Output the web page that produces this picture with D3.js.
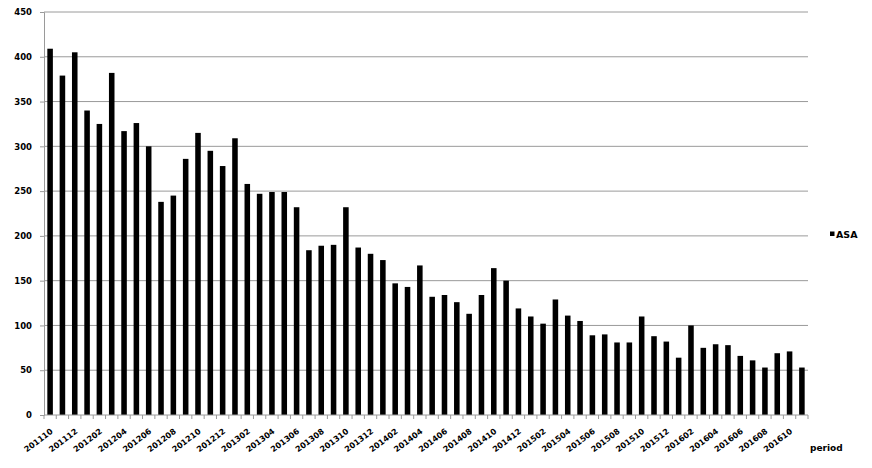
<!DOCTYPE html>
<html>
<head>
<meta charset="utf-8">
<script src="https://cdn.jsdelivr.net/npm/d3@7"></script>
<style>
  body { margin: 0; background: #fff; }
  text { font-family: "DejaVu Sans", Verdana, sans-serif; font-weight: bold; }
</style>
</head>
<body>
<svg id="chart" width="872" height="468"></svg>
<script>
// monthly periods and ASA values
const periods = [
  "201110","201111","201112",
  "201201","201202","201203","201204","201205","201206","201207","201208","201209","201210","201211","201212",
  "201301","201302","201303","201304","201305","201306","201307","201308","201309","201310","201311","201312",
  "201401","201402","201403","201404","201405","201406","201407","201408","201409","201410","201411","201412",
  "201501","201502","201503","201504","201505","201506","201507","201508","201509","201510","201511","201512",
  "201601","201602","201603","201604","201605","201606","201607","201608","201609","201610","201611"
]
const asa = [
  409, 379, 405,
  340, 325, 382, 317, 326, 300, 238, 245, 286, 315, 295, 278,
  309, 258, 247, 249, 249, 232, 184, 189, 190, 232, 187, 180,
  173, 147, 143, 167, 132, 134, 126, 113, 134, 164, 150, 119,
  110, 102, 129, 111, 105, 89, 90, 81, 81, 110, 88, 82,
  64, 100, 75, 79, 78, 66, 61, 53, 69, 71, 53
]
const yTicks = [0, 50, 100, 150, 200, 250, 300, 350, 400, 450]
const seriesName = "ASA"
const axisTitle = "period"

const margin = { top: 12, right: 64, bottom: 53, left: 44 }
const width = 872 - margin.left - margin.right
const height = 468 - margin.top - margin.bottom

const svg = d3.select("#chart")
const g = svg.append("g")
  .attr("transform", "translate(" + margin.left + "," + margin.top + ")")

const x = d3.scaleBand()
  .domain(periods)
  .range([0, width])
  .paddingInner(0.55)
  .paddingOuter(0.27)

const y = d3.scaleLinear()
  .domain([0, 450])
  .range([height, 0])

// gridlines
g.append("g")
  .selectAll("line")
  .data(yTicks.slice(1))
  .enter().append("line")
    .attr("x1", 0)
    .attr("x2", width)
    .attr("y1", d => y(d))
    .attr("y2", d => y(d))
    .attr("stroke", "#9a9a9a")
    .attr("stroke-width", 1)

// y axis
const yAxis = g.append("g")
  .call(d3.axisLeft(y).tickValues(yTicks).tickSize(4).tickPadding(8))
yAxis.select(".domain").attr("stroke", "#9a9a9a")
yAxis.selectAll(".tick line").attr("stroke", "#9a9a9a")
yAxis.selectAll("text")
  .attr("font-size", "8.5px")
  .attr("font-family", "DejaVu Sans, sans-serif")
  .attr("font-weight", "bold")
  .attr("fill", "#000")

// bars
g.append("g")
  .selectAll("rect")
  .data(periods)
  .enter().append("rect")
    .attr("x", d => x(d))
    .attr("y", (d, i) => y(asa[i]))
    .attr("width", x.bandwidth())
    .attr("height", (d, i) => height - y(asa[i]))
    .attr("fill", "#000")

// x axis line and ticks between categories
const step = x.step()
const x0 = x(periods[0]) - (step - x.bandwidth()) / 2
const xa = g.append("g").attr("transform", "translate(0," + height + ")")
xa.append("line")
  .attr("x1", 0).attr("x2", width)
  .attr("stroke", "#9a9a9a")
xa.selectAll(".tk")
  .data(d3.range(periods.length + 1))
  .enter().append("line")
    .attr("class", "tk")
    .attr("x1", i => Math.max(0, Math.min(width, x0 + i * step)))
    .attr("x2", i => Math.max(0, Math.min(width, x0 + i * step)))
    .attr("y1", 0).attr("y2", 4)
    .attr("stroke", "#9a9a9a")

// every other label, rotated
xa.selectAll(".lbl")
  .data(periods.filter((d, i) => i % 2 === 0))
  .enter().append("text")
    .attr("class", "lbl")
    .attr("transform", d => "translate(" + (x(d) + x.bandwidth() / 2) + ",13) rotate(-37)")
    .attr("text-anchor", "end")
    .attr("dy", "0.7em")
    .attr("font-size", "8px")
    .attr("fill", "#000")
    .text(d => d)

// axis title
svg.append("text")
  .attr("x", 810)
  .attr("y", 451)
  .attr("font-size", "9px")
  .attr("fill", "#000")
  .text(axisTitle)

// legend
const legend = svg.append("g").attr("transform", "translate(830,234)")
legend.append("rect")
  .attr("x", 0).attr("y", -2.5)
  .attr("width", 4.5).attr("height", 4.5)
  .attr("fill", "#000")
legend.append("text")
  .attr("x", 6).attr("y", 3.5)
  .attr("font-size", "9.5px")
  .attr("fill", "#000")
  .text(seriesName)
</script>
</body>
</html>
